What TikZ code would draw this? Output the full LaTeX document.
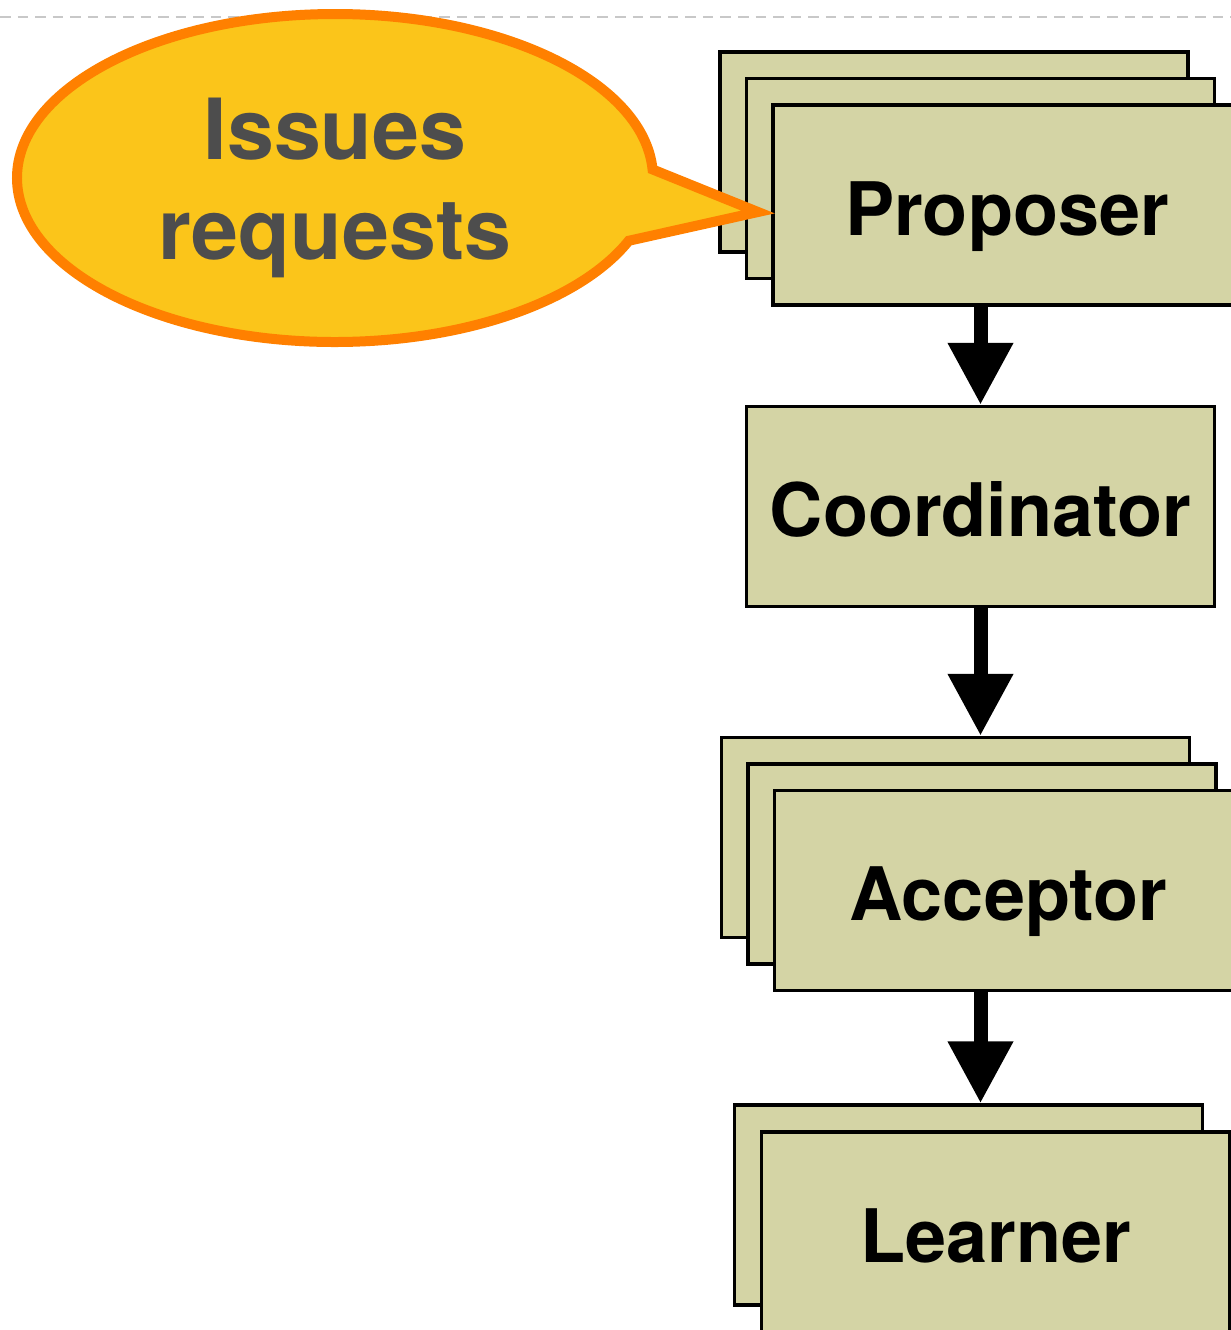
\documentclass[tikz,border=0pt]{standalone}
\usepackage{fontspec}
\setmainfont{TeX Gyre Heros}
\usetikzlibrary{arrows.meta, positioning}

\definecolor{rolefill}{RGB}{212,212,165}
\definecolor{bubblefill}{RGB}{251,197,26}
\definecolor{bubbleline}{RGB}{255,128,0}
\definecolor{bubbletext}{RGB}{77,77,77}
\definecolor{rulegray}{RGB}{200,200,200}

\tikzset{
  role/.style={draw=black, line width=1pt, fill=rolefill, inner sep=0pt,
    minimum width=4.68cm, minimum height=2cm, text height=0.6cm, text depth=0pt,
    font=\fontsize{21}{25}\selectfont\bfseries},
  flow/.style={line width=0.14cm, -{Triangle[width=0.62cm,length=0.62cm]}},
  bubble/.style={fill=bubblefill, draw=bubbleline, line width=0.1cm, line join=miter}
}

\begin{document}
\begin{tikzpicture}
\useasboundingbox (0,0) rectangle (12.31,-13.30);

\draw[rulegray, line width=0.6pt, dash pattern=on 3pt off 2pt] (0,-0.17) -- (12.31,-0.17); % top rule

% proposers
\foreach \i in {0,1}
\node[role] (prop\i) at ({9.54+0.265*\i},{-1.52-0.265*\i}) {};
\node[role] (prop) at (10.07,-2.05) {Proposer};

% coordinator
\node[role] (coord) at (9.805,-5.065) {Coordinator};

% acceptors
\foreach \i in {0,1}
\node[role] (acc\i) at ({9.555+0.265*\i},{-8.375-0.265*\i}) {};
\node[role] (acc) at (10.085,-8.905) {Acceptor};

% learners
\node[role] (lrn0) at (9.685,-12.05) {};
\node[role] (lrn) at (9.955,-12.32) {Learner};

% arrows
\draw[flow] (prop.south -| coord.north) -- (coord.north);
\draw[flow] (coord.south) -- (acc0.north -| coord.south);
\draw[flow] (acc.south -| coord.south) -- (lrn0.north -| coord.south);

% callout
\coordinate (tip) at (7.58,-2.12);
\draw[bubble] (tip) -- ({3.35+3.18*cos(3)},{-1.78+1.64*sin(3)})
  arc[start angle=3, end angle=337.5, x radius=3.18cm, y radius=1.64cm] -- cycle;
\node[text=bubbletext, align=center, font=\fontsize{24}{28.5}\selectfont\bfseries]
  (issues) at (3.35,-1.88) {Issues\\requests};

\end{tikzpicture}
\end{document}
